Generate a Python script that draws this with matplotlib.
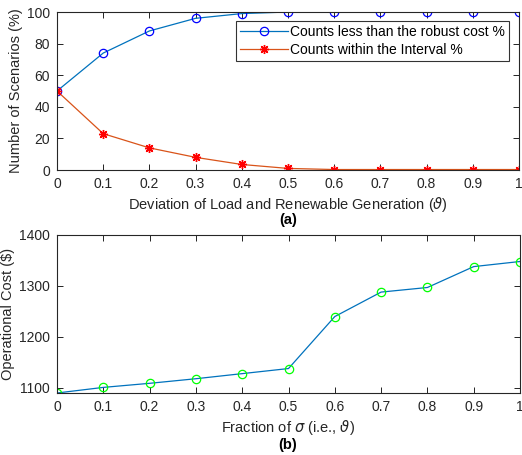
import matplotlib.pyplot as plt

plt.rcParams['font.family'] = ['Liberation Sans', 'DejaVu Sans']
plt.rcParams['mathtext.fontset'] = 'dejavusans'

theta = [0, 0.1, 0.2, 0.3, 0.4, 0.5, 0.6, 0.7, 0.8, 0.9, 1.0]
less_than_robust = [50, 74, 88, 96, 99, 100, 100, 100, 100, 100, 100]
within_interval = [50, 23, 14, 8, 3.5, 1, 0.3, 0.3, 0.3, 0.3, 0.3]
op_cost = [1090, 1101, 1109, 1118, 1128, 1138, 1240, 1288, 1297, 1338, 1348]

xticks = [0, 0.1, 0.2, 0.3, 0.4, 0.5, 0.6, 0.7, 0.8, 0.9, 1]
xticklabels = ['0', '0.1', '0.2', '0.3', '0.4', '0.5', '0.6', '0.7', '0.8', '0.9', '1']

fig = plt.figure(figsize=(5.22, 4.55), dpi=100)
ax1 = fig.add_axes([57 / 522, 1 - 170 / 455, 462 / 522, 158 / 455])
ax2 = fig.add_axes([57 / 522, 1 - 393 / 455, 463 / 522, 158 / 455])

tfs = 10
lfs = 10.5
tc = '#262626'

ax1.plot(theta, less_than_robust, '-', color='#0072BD', lw=0.9,
         marker='o', ms=6, mfc='none', mec='blue', mew=0.9,
         label='Counts less than the robust cost %')
ax1.plot(theta, within_interval, '-', color='#D95319', lw=0.9,
         marker=(8, 2, 0), ms=6.5, mfc='red', mec='red', mew=1.0,
         label='Counts within the Interval %')
ax1.set_ylim(0, 100)
ax1.set_yticks([0, 20, 40, 60, 80, 100])
ax1.set_ylabel('Number of Scenarios (%)', fontsize=lfs, color=tc, labelpad=3)
ax1.set_xlabel(r'Deviation of Load and Renewable Generation ($\vartheta$)',
               fontsize=lfs, color=tc, labelpad=3)
leg = ax1.legend(loc='upper right', bbox_to_anchor=(0.978, 0.943), fontsize=tfs,
                 frameon=True, fancybox=False, edgecolor='black',
                 borderpad=0.3, handlelength=3.4, handletextpad=0.15, labelspacing=0.25,
                 borderaxespad=0.0)
leg.get_frame().set_linewidth(0.8)
fig.text(0.5 * (57 + 519) / 522, 1 - 220 / 455, '(a)', fontweight='bold',
         fontsize=lfs, ha='center', va='center')

ax2.plot(theta, op_cost, '-', color='#0072BD', lw=0.9,
         marker='o', ms=6, mfc='none', mec='#00FF00', mew=0.9)
ax2.set_ylim(1090, 1400)
ax2.set_yticks([1100, 1200, 1300, 1400])
ax2.set_ylabel('Operational Cost ($)', fontsize=lfs, color=tc, labelpad=3)
ax2.set_xlabel(r'Fraction of $\sigma$ (i.e., $\vartheta$)',
               fontsize=lfs, color=tc, labelpad=3)
fig.text(0.5 * (57 + 519) / 522, 1 - 445 / 455, '(b)', fontweight='bold',
         fontsize=lfs, ha='center', va='center')

for ax in (ax1, ax2):
    ax.set_xlim(0, 1)
    ax.set_xticks(xticks)
    ax.set_xticklabels(xticklabels)
    ax.tick_params(direction='in', top=True, right=True, length=4, width=0.6,
                   labelsize=tfs, labelcolor=tc, pad=5)
    for s in ax.spines.values():
        s.set_linewidth(0.8)
        s.set_color('#262626')

fig.savefig('out.png', dpi=100)
